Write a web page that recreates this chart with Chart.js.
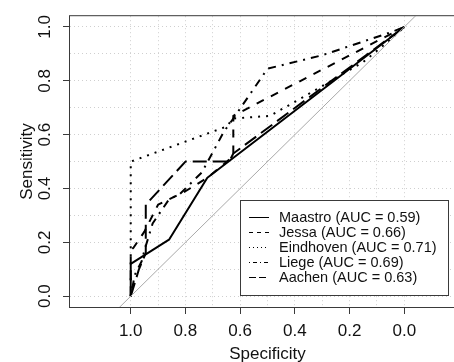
<!DOCTYPE html>
<html lang="en">
<head>
<meta charset="UTF-8">
<title>ROC curves by centre</title>
<script src="https://cdn.jsdelivr.net/npm/chart.js"></script>
<style>
  html, body { margin: 0; padding: 0; overflow: hidden; background: #fff; }
  .wrap { width: 470px; height: 362px; }
</style>
</head>
<body>
<div class="wrap"><canvas id="roc" width="470" height="362"></canvas></div>
<script>
// centres and their AUC
const centres = ['Maastro', 'Jessa', 'Eindhoven', 'Liege', 'Aachen'];
const aucValues = [0.59, 0.66, 0.71, 0.69, 0.63];

// ROC points: specificity / sensitivity per centre
const maastroSpec = [1, 1, 0.86, 0.72, 0];
const maastroSens = [0, 0.12, 0.21, 0.44, 1];

const jessaSpec = [1, 1, 0.99, 0.95, 0.9, 0.8, 0.72, 0.66, 0.625, 0.625, 0];
const jessaSens = [0, 0.17, 0.18, 0.24, 0.34, 0.39, 0.44, 0.49, 0.52, 0.67, 1];

const eindhovenSpec = [1, 1, 0.65, 0.625, 0.49, 0.3, 0.15, 0.06, 0];
const eindhovenSens = [0, 0.5, 0.63, 0.66, 0.67, 0.78, 0.87, 0.945, 1];

const liegeSpec = [1, 0.985, 0.96, 0.95, 0.92, 0.86, 0.82, 0.74, 0.66, 0.625, 0.5, 0.3, 0.05, 0];
const liegeSens = [0, 0.08, 0.13, 0.17, 0.27, 0.36, 0.38, 0.46, 0.61, 0.66, 0.845, 0.895, 0.98, 1];

const aachenSpec = [1, 0.97, 0.945, 0.945, 0.8, 0.64, 0.625, 0];
const aachenSens = [0, 0.1, 0.16, 0.34, 0.5, 0.5, 0.53, 1];

// chance diagonal
const diagSpec = [1.3, -0.3];
const diagSens = [-0.3, 1.3];

// axis ticks
const gridSteps = [0, 0.1, 0.2, 0.3, 0.4, 0.5, 0.6, 0.7, 0.8, 0.9, 1.0];
const labelSteps = [0, 0.2, 0.4, 0.6, 0.8, 1.0];

const specs = [maastroSpec, jessaSpec, eindhovenSpec, liegeSpec, aachenSpec];
const senss = [maastroSens, jessaSens, eindhovenSens, liegeSens, aachenSens];

// R line types 1..5
const ltyPatterns = [[], [4, 4], [1, 3], [1, 3, 4, 3], [7, 3]];

const FONT = "'Liberation Sans', Arial, Helvetica, sans-serif";
const INK = '#111';
const FRAME = '#3a3a3a';

function toPoints(xs, ys) {
    return xs.map((x, i) => ({ x: x, y: ys[i] }));
}

const datasets = centres.map((name, i) => ({
    label: name + ' (AUC = ' + aucValues[i].toFixed(2) + ')',
    data: toPoints(specs[i], senss[i]),
    borderColor: '#000',
    borderWidth: 2,
    borderDash: ltyPatterns[i].map(v => v * 2),
    legendDash: ltyPatterns[i],
    borderCapStyle: 'butt',
    borderJoinStyle: 'round',
    pointRadius: 0,
    fill: false,
    tension: 0
}));

datasets.unshift({
    label: 'chance',
    data: toPoints(diagSpec, diagSens),
    borderColor: '#a9a9a9',
    borderWidth: 1,
    pointRadius: 0,
    fill: false,
    skipLegend: true
});

// plot frame (R box)
const frame = {
    id: 'frame',
    afterDraw(chart) {
        const a = chart.chartArea, ctx = chart.ctx;
        ctx.save();
        ctx.strokeStyle = FRAME;
        ctx.lineWidth = 1;
        ctx.strokeRect(a.left - 0.5, a.top - 0.5, a.right - a.left + 1, a.bottom - a.top + 1);
        ctx.restore();
    }
};

// legend box in the lower right of the plot
const legendBox = {
    id: 'legendBox',
    afterDraw(chart) {
        const ctx = chart.ctx;
        const x0 = 240.5, y0 = 200.5, w = 208, h = 95;
        ctx.save();
        ctx.fillStyle = '#fff';
        ctx.fillRect(x0, y0, w, h);
        ctx.strokeStyle = FRAME;
        ctx.lineWidth = 1;
        ctx.strokeRect(x0, y0, w, h);
        ctx.font = '14.5px ' + FONT;
        ctx.textBaseline = 'middle';
        ctx.fillStyle = INK;
        chart.data.datasets.filter(d => !d.skipLegend).forEach((ds, i) => {
            const y = 217.5 + i * 15;
            ctx.strokeStyle = '#000';
            ctx.setLineDash(ds.legendDash);
            ctx.beginPath();
            ctx.moveTo(249, y);
            ctx.lineTo(269, y);
            ctx.stroke();
            ctx.fillText(ds.label, 279, y + 0.5);
        });
        ctx.restore();
    }
};

function gridTicks(scale) {
    scale.ticks = gridSteps.map(v => ({ value: v }));
}

function tickMarkColor(c) {
    return c.tick && labelSteps.includes(c.tick.value) ? FRAME : 'rgba(0,0,0,0)';
}

function tickLabel(v) {
    return labelSteps.includes(v) ? v.toFixed(1) : '';
}

const ctx = document.getElementById('roc').getContext('2d');
new Chart(ctx, {
    type: 'line',
    data: { datasets: datasets },
    options: {
        responsive: false,
        animation: false,
        events: [],
        layout: { padding: { top: 12, right: 5, left: 0, bottom: 0 } },
        plugins: {
            legend: { display: false },
            tooltip: { enabled: false }
        },
        scales: {
            x: {
                type: 'linear',
                reverse: true,
                min: -0.222,
                max: 1.222,
                afterBuildTicks: gridTicks,
                afterFit(scale) { scale.height = 55; },
                border: { display: false, dash: [1, 3] },
                grid: {
                    color: '#cfcfcf',
                    lineWidth: 1,
                    tickLength: 7,
                    tickColor: tickMarkColor,
                    tickBorderDash: []
                },
                ticks: {
                    autoSkip: false,
                    maxRotation: 0,
                    padding: 7,
                    color: INK,
                    font: { size: 17, family: FONT },
                    callback: tickLabel
                },
                title: {
                    display: true,
                    text: 'Specificity',
                    color: INK,
                    font: { size: 17, family: FONT, lineHeight: 0.9 },
                    padding: { top: 0, bottom: 0 }
                }
            },
            y: {
                type: 'linear',
                min: -0.04,
                max: 1.04,
                afterBuildTicks: gridTicks,
                afterFit(scale) { scale.width = 70; },
                border: { display: false, dash: [1, 3] },
                grid: {
                    color: '#cfcfcf',
                    lineWidth: 1,
                    tickLength: 7,
                    tickColor: tickMarkColor,
                    tickBorderDash: []
                },
                ticks: {
                    autoSkip: false,
                    minRotation: 90,
                    maxRotation: 90,
                    crossAlign: 'center',
                    padding: 6,
                    color: INK,
                    font: { size: 17, family: FONT },
                    callback: tickLabel
                },
                title: {
                    display: true,
                    text: 'Sensitivity',
                    color: INK,
                    font: { size: 17, family: FONT, lineHeight: 1 },
                    padding: { top: 19, bottom: 0 }
                }
            }
        }
    },
    plugins: [frame, legendBox]
});
</script>
</body>
</html>
